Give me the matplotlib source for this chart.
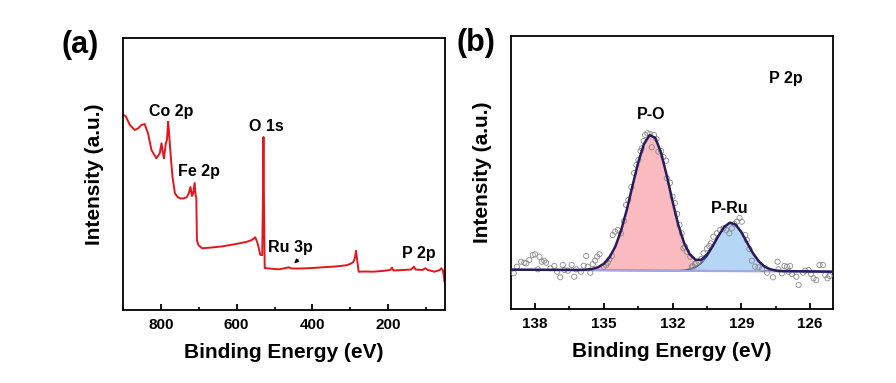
import matplotlib

matplotlib.use("Agg")

import matplotlib.pyplot as plt
import numpy as np
from matplotlib.ticker import MultipleLocator

plt.rcParams["font.family"] = ["Liberation Sans", "DejaVu Sans"]
plt.rcParams["font.weight"] = "bold"

# (a) survey spectrum: binding energy (eV) / intensity (a.u.)
survey_be = [
    900, 893, 882, 869, 860, 851.5, 843, 834, 825, 812, 803, 798.5, 795, 792,
    787, 784, 781, 779, 776, 769.5, 763, 756, 750, 741, 732, 726, 722, 718,
    715, 711, 708.5, 706.5, 705, 701, 691.5, 675, 661, 640, 617, 595, 572.5,
    560, 551, 545, 537.5, 532.5, 530.5, 529.3, 528, 526, 519, 500, 488, 470,
    463, 455, 430, 400, 374, 340, 315, 307.5, 298, 292, 288, 285, 282, 278,
    260, 241, 215, 195, 190, 186, 160, 140, 132, 128, 110, 102, 95, 78, 64,
    60, 56, 53, 51.5, 50,
]
survey_int = [
    195, 194, 185, 180, 181.7, 185, 186, 176.7, 160, 151.7, 156.7, 166.7, 158,
    151.7, 166.7, 170, 188.3, 180, 163.3, 133.3, 116.7, 113, 111.7, 111.5,
    112.7, 117, 123, 114, 116.7, 127, 115, 112, 70, 65, 61.7, 62.2, 62.7,
    63.5, 65, 66.5, 68.3, 70, 72.7, 67, 55, 55, 120, 173, 110, 42, 41.7, 41,
    40.7, 42, 42.7, 41.5, 41.5, 42, 42.7, 43.5, 44.5, 45, 46.5, 48, 52, 59.3,
    50, 38.3, 38.5, 38.3, 39, 40, 42.3, 39.5, 40, 40.5, 43.3, 40.5, 40, 41.7,
    40, 38.3, 40, 41.7, 40, 34, 28.3, 27,
]
survey_labels = ["Co 2p", "Fe 2p", "O 1s", "Ru 3p", "P 2p"]
survey_label_be = [773, 700, 522, 459, 119]
survey_label_int = [198, 138, 183, 62, 56]

# (b) P 2p high resolution: measured points
p2p_be = [
    138.93, 138.79, 138.61, 138.47, 138.39, 138.25, 138.10, 138.00, 137.88,
    137.81, 137.71, 137.60, 137.52, 137.33, 137.16, 137.04, 136.90, 136.79,
    136.72, 136.57, 136.40, 136.29, 136.21, 136.00, 135.88, 135.77, 135.70,
    135.59, 135.48, 135.38, 135.29, 135.19, 135.00, 134.90, 134.83, 134.76,
    134.65, 134.61, 134.51, 134.39, 134.25, 134.12, 134.03, 133.93, 133.80,
    133.68, 133.58, 133.49, 133.40, 133.34, 133.26, 133.20, 133.10, 132.98,
    132.91, 132.81, 132.70, 132.62, 132.50, 132.40, 132.28, 132.25, 132.11,
    132.00, 131.90, 131.80, 131.70, 131.60, 131.53, 131.45, 131.38, 131.23,
    131.16, 131.12, 131.02, 130.97, 130.87, 130.75, 130.65, 130.50, 130.40,
    130.33, 130.22, 130.07, 129.92, 129.78, 129.66, 129.52, 129.41, 129.30,
    129.19, 129.08, 128.98, 128.83, 128.76, 128.65, 128.54, 128.40, 128.25,
    128.10, 127.88, 127.62, 127.42, 127.38, 127.23, 127.12, 127.01, 126.94,
    126.87, 126.79, 126.60, 126.50, 126.31, 126.21, 126.07, 125.96, 125.85,
    125.73, 125.59, 125.44, 125.34, 125.24, 125.15,
]
p2p_int = [
    35.7, 42.3, 47.3, 46.3, 45.7, 49, 54, 54.7, 39.7, 52.3, 47.3, 48.3, 46.3,
    40.7, 43, 37.3, 31.7, 44, 39, 38.3, 44, 32.3, 39.7, 37.3, 43.3, 53, 42.3,
    36.3, 45, 48.3, 52.3, 54.7, 42.3, 44, 46.3, 49.7, 53, 74, 77.3, 79, 75.7,
    88, 104, 109, 122, 136, 144, 149, 158, 160.7, 168, 174, 175.7, 175, 161.7,
    174, 170, 157.3, 158, 152, 148.3, 130.7, 126.3, 112.3, 106, 95, 84, 75.7,
    60.7, 62, 57.3, 52.3, 42.3, 43, 45, 45.7, 47.3, 50, 55.7, 60.7, 63, 65.7,
    72.3, 75.7, 79, 80.7, 79, 75.7, 80.7, 85, 87.3, 91, 87.3, 74, 69, 60, 48.3,
    42.3, 41.7, 40, 36.3, 31.7, 47.3, 39.7, 35.7, 43, 42.3, 37.3, 43, 35, 32.3,
    24, 36.3, 38.3, 39, 35, 30.7, 29, 44, 44, 34, 30.7, 33,
]

# (b) fitted components above the background, on a 0.25 eV grid
fit_be = [
    136.0, 135.75, 135.5, 135.25, 135.0, 134.75, 134.5, 134.25, 134.0, 133.75,
    133.5, 133.25, 133.0, 132.75, 132.5, 132.25, 132.0, 131.75, 131.5, 131.25,
    131.0, 130.75, 130.5, 130.25, 130.0, 129.75, 129.5, 129.25, 129.0, 128.75,
    128.5, 128.25, 128.0, 127.75, 127.5, 127.25,
]
po_fit = [
    0.2, 0.5, 1.3, 3.0, 6.5, 13.0, 23.7, 39.6, 60.4, 84.5, 108.0, 126.5, 135.5,
    132.6, 117.7, 94.8, 69.2, 45.8, 27.5, 15.0, 7.4, 3.3, 1.4, 0.5, 0.2, 0.0,
    0.0, 0.0, 0.0, 0.0, 0.0, 0.0, 0.0, 0.0, 0.0, 0.0,
]
pru_fit = [
    0.0, 0.0, 0.0, 0.0, 0.0, 0.0, 0.0, 0.0, 0.0, 0.0, 0.0, 0.0, 0.0, 0.0, 0.0,
    0.0, 0.0, 0.0, 0.5, 1.5, 3.6, 7.8, 14.7, 24.3, 35.0, 44.0, 48.4, 46.5,
    39.0, 28.6, 18.3, 10.2, 5.0, 2.1, 0.8, 0.3,
]
background_be = [139.0, 125.0]
background_int = [39.3, 37.3]


def style_axes(ax, xlim, major, minor, ymax):
    ax.set_xlim(*xlim)
    ax.set_ylim(0, ymax)
    ax.xaxis.set_major_locator(MultipleLocator(major))
    ax.xaxis.set_minor_locator(MultipleLocator(minor))
    ax.set_yticks([])
    ax.tick_params(axis="x", which="major", direction="in", length=4.5,
                   width=1.3, labelsize=11, pad=6)
    ax.tick_params(axis="x", which="minor", direction="in", length=2.5,
                   width=1.2)
    for tick in ax.get_xticklabels():
        tick.set_fontweight("bold")
    for spine in ax.spines.values():
        spine.set_linewidth(1.3)
    ax.set_xlabel("Binding Energy (eV)", fontsize=15, fontweight="bold",
                  labelpad=8)
    ax.set_ylabel("Intensity (a.u.)", fontsize=15, fontweight="bold",
                  labelpad=14)


def plot_survey(ax):
    ax.plot(survey_be, survey_int, color="#e3161c", lw=1.4)
    for text, x, y in zip(survey_labels, survey_label_be, survey_label_int):
        ax.text(x, y, text, ha="center", va="center", fontsize=11.5,
                fontweight="bold")
    ax.annotate("", xy=(454, 45), xytext=(432, 52),
                arrowprops=dict(arrowstyle="-|>", color="black", lw=0.8,
                                mutation_scale=6))
    style_axes(ax, (900, 50), 200, 100, 272)


def plot_p2p(ax):
    be = np.array([background_be[0]] + fit_be + [background_be[1]])
    po = np.array([0.0] + po_fit + [0.0])
    pru = np.array([0.0] + pru_fit + [0.0])
    bg = np.interp(be, background_be[::-1], background_int[::-1])

    ax.fill_between(be, bg, bg + po, color="#f9b4b8", alpha=0.9, lw=0)
    ax.fill_between(be, bg, bg + pru, color="#a9cff5", alpha=0.85, lw=0)
    ax.plot(be, bg + pru, color="#2246a8", lw=1.2)
    ax.plot(be, bg, color="#a6a6e0", lw=1.6)
    ax.scatter(p2p_be, p2p_int, s=14, facecolors="none", edgecolors="#8a8a8a",
               linewidths=0.6, zorder=3)
    ax.plot(be, bg + po + pru, color="#2a1b5c", lw=1.8, zorder=4)

    ax.text(132.94, 195, "P-O", ha="center", va="center", fontsize=11.5,
            fontweight="bold")
    ax.text(129.52, 101, "P-Ru", ha="center", va="center", fontsize=11.5,
            fontweight="bold")
    ax.text(127.08, 231, "P 2p", ha="center", va="center", fontsize=11.5,
            fontweight="bold")
    style_axes(ax, (139.05, 125.0), 3, 1.5, 273)


def main() -> None:
    fig = plt.figure(figsize=(8.96, 3.83), dpi=100)
    ax_a = fig.add_axes([0.1373, 0.1906, 0.3594, 0.7102])
    ax_b = fig.add_axes([0.5703, 0.1932, 0.3594, 0.7128])

    plot_survey(ax_a)
    plot_p2p(ax_b)

    fig.text(0.089, 0.882, "(a)", fontsize=22, fontweight="bold",
             ha="center", va="center")
    fig.text(0.531, 0.887, "(b)", fontsize=22, fontweight="bold",
             ha="center", va="center")

    fig.savefig("out.png", dpi=100)


if __name__ == "__main__":
    main()
